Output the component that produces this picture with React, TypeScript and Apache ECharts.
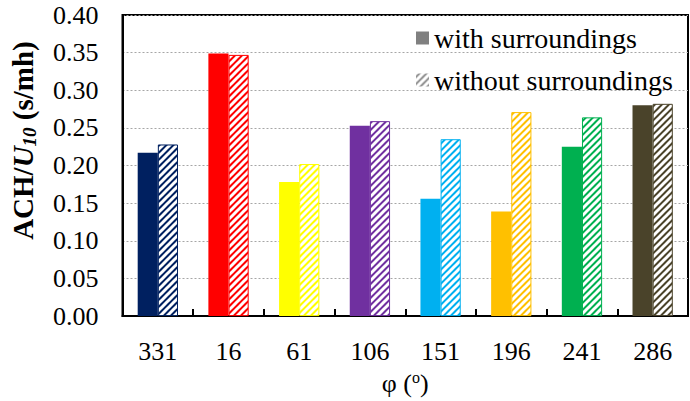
import React, { useEffect, useRef } from "react";
import * as echarts from "echarts";

const categories = ["331", "16", "61", "106", "151", "196", "241", "286"];
const withSurroundings = [0.217, 0.349, 0.178, 0.253, 0.156, 0.139, 0.225, 0.28];
const withoutSurroundings = [0.228, 0.347, 0.202, 0.259, 0.235, 0.271, 0.264, 0.282];
const barColors = ["#002060", "#FF0000", "#FFFF00", "#7030A0", "#00B0F0", "#FFC000", "#00B050", "#4A432A"];
const seriesNames = ["with surroundings", "without surroundings"];
const yTicks = { min: 0, max: 0.4, interval: 0.05 };

const FONT = "Times New Roman";

function makeHatch(color: string) {
  const s = 7;
  const c = document.createElement("canvas");
  c.width = s;
  c.height = s;
  const ctx = c.getContext("2d")!;
  ctx.fillStyle = color;
  ctx.fillRect(0, 0, s, s);
  ctx.strokeStyle = "#ffffff";
  ctx.lineWidth = 3;
  ctx.beginPath();
  ctx.moveTo(-1, s + 1);
  ctx.lineTo(s + 1, -1);
  ctx.moveTo(-2, 2);
  ctx.lineTo(2, -2);
  ctx.moveTo(s - 2, s + 2);
  ctx.lineTo(s + 2, s - 2);
  ctx.stroke();
  return { image: c, repeat: "repeat", imageWidth: s, imageHeight: s } as any;
}

function buildOption(): any {
  return {
    animation: false,
    backgroundColor: "#ffffff",
    textStyle: { fontFamily: FONT },
    grid: {
      left: 118,
      right: 2,
      top: 15,
      bottom: 83,
      show: true,
      borderColor: "#000000",
      borderWidth: 2,
      backgroundColor: "transparent",
    },
    legend: {
      orient: "vertical",
      left: 411,
      top: 19,
      itemWidth: 13,
      itemHeight: 13,
      itemGap: 14,
      icon: "rect",
      textStyle: { fontFamily: FONT, fontSize: 28, color: "#000", lineHeight: 28 },
      data: seriesNames,
    },
    xAxis: {
      type: "category",
      data: categories,
      name: "{t|φ (}{s|o}{t|)}",
      nameLocation: "middle",
      nameGap: 52,
      nameTextStyle: {
        fontFamily: FONT,
        rich: {
          t: { fontFamily: FONT, fontSize: 26, color: "#000", lineHeight: 28 },
          s: { fontFamily: FONT, fontSize: 16, color: "#000", verticalAlign: "top", lineHeight: 28 },
        },
      },
      axisLine: { show: true, lineStyle: { color: "#000", width: 2 } },
      axisTick: { show: true, inside: true, length: 7, lineStyle: { color: "#000", width: 2 } },
      axisLabel: { fontFamily: FONT, fontSize: 26, color: "#000", margin: 22, interval: 0 },
    },
    yAxis: {
      type: "value",
      min: yTicks.min,
      max: yTicks.max,
      interval: yTicks.interval,
      name: "{b|ACH/}{i|U}{sub|10}{b| (s/mh)}",
      nameLocation: "middle",
      nameGap: 84,
      nameTextStyle: {
        fontFamily: FONT,
        padding: [0, 0, 0, 50],
        rich: {
          b: { fontFamily: FONT, fontSize: 29, fontWeight: "bold", color: "#000", lineHeight: 32 },
          i: { fontFamily: FONT, fontSize: 29, fontWeight: "bold", fontStyle: "italic", color: "#000", lineHeight: 32 },
          sub: { fontFamily: FONT, fontSize: 19, fontWeight: "bold", fontStyle: "italic", color: "#000", verticalAlign: "bottom", lineHeight: 32 },
        },
      },
      axisLine: { show: true, lineStyle: { color: "#000", width: 2 } },
      axisTick: { show: false },
      axisLabel: {
        fontFamily: FONT,
        fontSize: 26,
        color: "#000",
        margin: 24,
        formatter: (v: number) => v.toFixed(2),
      },
      splitLine: { show: true, lineStyle: { color: "#a6a6a6", type: [2, 2], width: 1 } },
    },
    series: [
      {
        name: seriesNames[0],
        type: "bar",
        barWidth: "28.5%",
        barGap: "0%",
        itemStyle: { color: "#808080" },
        data: withSurroundings.map((v, i) => ({ value: v, itemStyle: { color: barColors[i] } })),
      },
      {
        name: seriesNames[1],
        type: "bar",
        barWidth: "28.5%",
        barGap: "0%",
        itemStyle: { color: makeHatch("#909090") },
        data: withoutSurroundings.map((v, i) => ({
          value: v,
          itemStyle: { color: makeHatch(barColors[i]), borderColor: barColors[i], borderWidth: 1 },
        })),
      },
    ],
  };
}

export default function App() {
  const ref = useRef<HTMLDivElement>(null);
  useEffect(() => {
    if (!ref.current) return;
    const chart = echarts.init(ref.current, null, { renderer: "svg" });
    chart.setOption(buildOption());
    return () => chart.dispose();
  }, []);
  return (
    <div
      ref={ref}
      style={{ position: "absolute", left: 0, top: 0, width: 690, height: 401, background: "#fff" }}
    />
  );
}
